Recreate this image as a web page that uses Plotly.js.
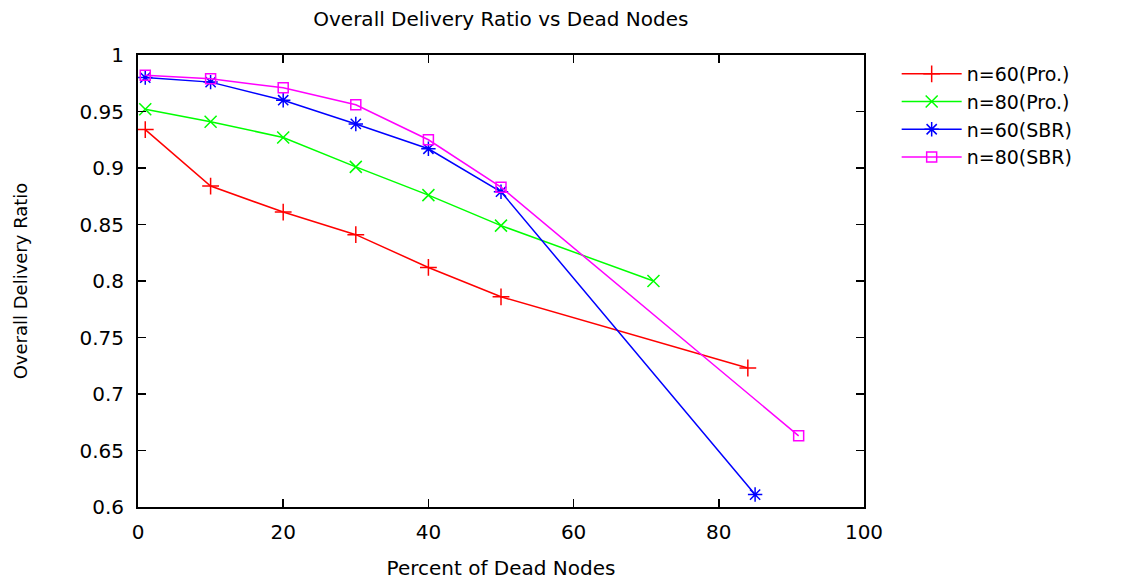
<!DOCTYPE html>
<html>
<head>
<meta charset="utf-8">
<script src="https://cdn.plot.ly/plotly-3.0.1.min.js"></script>
<style>html,body{margin:0;padding:0;background:#fff;}#chart{width:1137px;height:581px;}</style>
</head>
<body>
<div id="chart"></div>
<script>
// Data
const seriesNames = ["n=60(Pro.)", "n=80(Pro.)", "n=60(SBR)", "n=80(SBR)"];
const xPro60 = [1, 10, 20, 30, 40, 50, 84];
const yPro60 = [0.934, 0.884, 0.861, 0.841, 0.812, 0.786, 0.723];
const xPro80 = [1, 10, 20, 30, 40, 50, 71];
const yPro80 = [0.952, 0.941, 0.927, 0.901, 0.876, 0.849, 0.800];
const xSbr60 = [1, 10, 20, 30, 40, 50, 85];
const ySbr60 = [0.980, 0.976, 0.960, 0.939, 0.917, 0.879, 0.611];
const xSbr80 = [1, 10, 20, 30, 40, 50, 91];
const ySbr80 = [0.982, 0.979, 0.971, 0.956, 0.925, 0.883, 0.663];
const xTicks = [0, 20, 40, 60, 80, 100];
const yTicks = [0.6, 0.65, 0.7, 0.75, 0.8, 0.85, 0.9, 0.95, 1];
const yTickText = ["0.6", "0.65", "0.7", "0.75", "0.8", "0.85", "0.9", "0.95", "1"];

const colors = ["#ff0000", "#00ff00", "#0000ff", "#ff00ff"];
const symbols = ["cross-thin-open", "x-thin-open", "asterisk-open", "square-open"];
const xs = [xPro60, xPro80, xSbr60, xSbr80];
const ys = [yPro60, yPro80, ySbr60, ySbr80];

const traces = seriesNames.map((name, i) => ({
  type: "scatter",
  mode: "lines+markers",
  name: name,
  x: xs[i],
  y: ys[i],
  line: {color: colors[i], width: 1.5},
  marker: {symbol: symbols[i], size: i === 3 ? 10 : 12, color: colors[i], line: {color: colors[i], width: 1.5}}
}));

const font = {family: "DejaVu Sans, sans-serif", color: "#000"};
const layout = {
  width: 1137, height: 581,
  margin: {l: 138, r: 273, t: 55, b: 74},
  paper_bgcolor: "#fff", plot_bgcolor: "#fff",
  font: Object.assign({}, font, {size: 20}),
  title: {text: "Overall Delivery Ratio vs Dead Nodes", x: 0.4405, xanchor: "center", y: 0.968, yanchor: "middle", font: Object.assign({}, font, {size: 20})},
  xaxis: {
    range: [0, 100], tickvals: xTicks, ticktext: xTicks.map(String),
    ticks: "inside", ticklen: 8, tickwidth: 1.5, tickcolor: "#000",
    showline: true, linecolor: "#000", linewidth: 2, mirror: "allticks",
    showgrid: false, zeroline: false, ticklabelstandoff: 6,
    tickfont: Object.assign({}, font, {size: 20}),
    title: {text: "Percent of Dead Nodes", font: Object.assign({}, font, {size: 20}), standoff: 18}
  },
  yaxis: {
    range: [0.6, 1], tickvals: yTicks, ticktext: yTickText,
    ticks: "inside", ticklen: 8, tickwidth: 1.5, tickcolor: "#000",
    showline: true, linecolor: "#000", linewidth: 2, mirror: "allticks",
    showgrid: false, zeroline: false, ticklabelstandoff: 8,
    tickfont: Object.assign({}, font, {size: 20}),
    title: {text: "Overall Delivery Ratio", font: Object.assign({}, font, {size: 18}), standoff: 47}
  },
  showlegend: true,
  legend: {
    x: 1.045, xanchor: "left", y: 1.0, yanchor: "top",
    font: Object.assign({}, font, {size: 19}),
    bgcolor: "rgba(0,0,0,0)", itemwidth: 60, tracegroupgap: 0
  }
};

Plotly.newPlot("chart", traces, layout, {displayModeBar: false, staticPlot: true});
</script>
</body>
</html>
